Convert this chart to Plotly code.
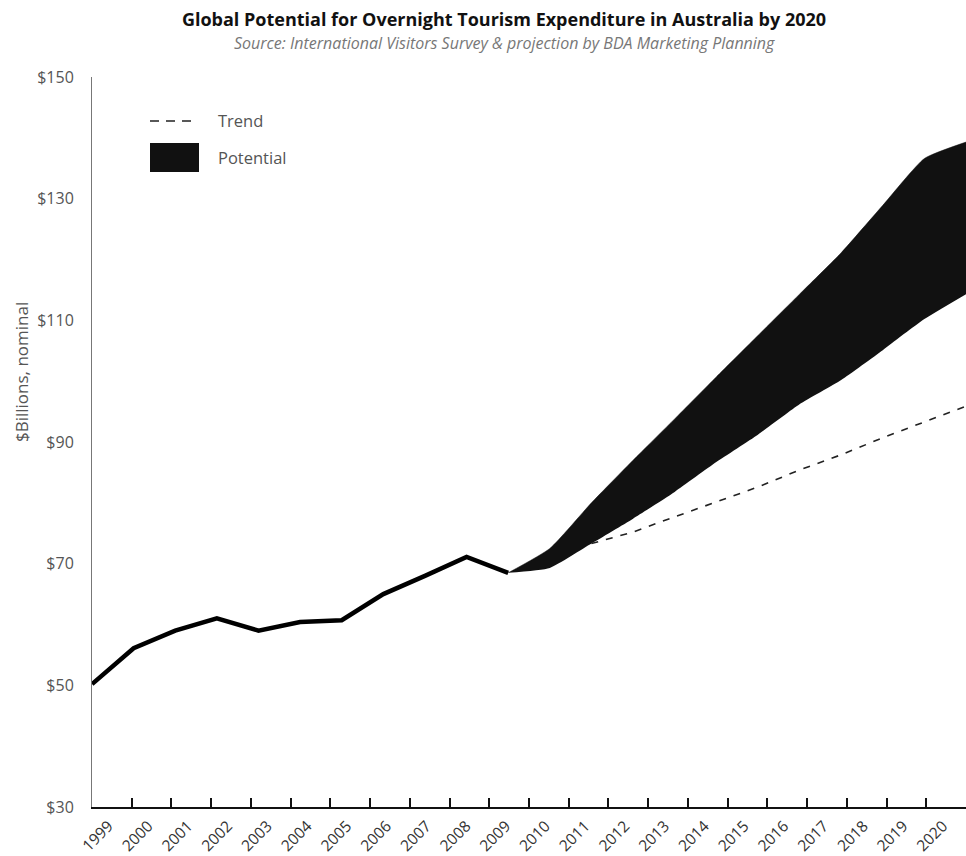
import plotly.graph_objects as go

# ---------------- data ----------------
hist_years = [1999, 2000, 2001, 2002, 2003, 2004, 2005, 2006, 2007, 2008, 2009]
hist_values = [50.2, 56.1, 59.0, 61.0, 59.0, 60.4, 60.7, 65.0, 68.0, 71.1, 68.5]

band_years = [2009, 2010, 2011, 2012, 2013, 2014, 2015, 2016, 2017, 2018, 2019, 2020]
band_lower = [68.5, 69.3, 73.3, 77.4, 81.8, 86.7, 91.2, 96.2, 100.2, 105.1, 110.2, 114.3]
band_upper = [68.5, 72.5, 80.0, 87.0, 93.8, 100.7, 107.5, 114.3, 121.1, 128.9, 136.6, 139.3]

trend_years = [2011, 2012, 2013, 2014, 2015, 2016, 2017, 2018, 2019, 2020]
trend_values = [73.3, 75.2, 77.7, 80.2, 82.6, 85.4, 87.9, 90.7, 93.3, 95.9]

tick_labels = [str(y) for y in range(1999, 2021)]
y_ticks = [30, 50, 70, 90, 110, 130, 150]
y_tick_text = ["$30", "$50", "$70", "$90", "$110", "$130", "$150"]

title = "Global Potential for Overnight Tourism Expenditure in Australia by 2020"
subtitle = "Source: International Visitors Survey & projection by BDA Marketing Planning"
y_title = "$Billions, nominal"
legend_names = ["Trend", "Potential"]

# ---------------- layout helpers ----------------
x0, x1 = hist_years[0], band_years[-1]
n_slots = len(tick_labels)  # category slots on the printed axis
step = (x1 - x0) / n_slots
boundary_vals = [x0 + i * step for i in range(1, n_slots + 1)]
LABEL_SHIFT = 0.40
label_vals = [x0 + i * step + LABEL_SHIFT for i in range(n_slots)]

FONT = "Open Sans"
GREY = "#555555"

fig = go.Figure()

# potential band
fig.add_trace(go.Scatter(x=band_years, y=band_lower, mode="lines",
                         line=dict(width=0, color="#111111", shape="spline", smoothing=0.5),
                         showlegend=False, hoverinfo="skip"))
fig.add_trace(go.Scatter(x=band_years, y=band_upper, mode="lines",
                         line=dict(width=0.5, color="#111111", shape="spline", smoothing=0.5),
                         fill="tonexty", fillcolor="#111111",
                         name=legend_names[1], showlegend=False))
# trend
fig.add_trace(go.Scatter(x=trend_years, y=trend_values, mode="lines",
                         line=dict(color="#222222", width=1.6, dash="7px,8px"),
                         name=legend_names[0], showlegend=False))
# historical line
fig.add_trace(go.Scatter(x=hist_years, y=hist_values, mode="lines",
                         line=dict(color="#000000", width=4.5),
                         showlegend=False))
# dummy trace for label axis
fig.add_trace(go.Scatter(x=[x0, x1], y=[None, None], xaxis="x2",
                         mode="lines", showlegend=False, hoverinfo="skip"))

fig.update_layout(
    width=966, height=856,
    margin=dict(l=92, r=0, t=77, b=49),
    paper_bgcolor="white", plot_bgcolor="white",
    font=dict(family=FONT, color=GREY, size=14),
    title=dict(text="<b>" + title + "</b>", x=504 / 966, xanchor="center",
               xref="container", y=1 - 20 / 856, yanchor="middle", yref="container",
               font=dict(family=FONT, size=18, color="#111111")),
    xaxis=dict(range=[x0, x1], tickvals=boundary_vals, showticklabels=False,
               ticks="inside", ticklen=9, tickwidth=1.5, tickcolor="#111111",
               showline=True, linecolor="#111111", linewidth=1.8,
               showgrid=False, zeroline=False, fixedrange=True),
    xaxis2=dict(range=[x0, x1], overlaying="x", anchor="y", side="bottom",
                tickvals=label_vals, ticktext=tick_labels, tickangle=-45,
                ticks="", showline=False, showgrid=False, zeroline=False,
                ticklabelstandoff=6,
                tickfont=dict(family=FONT, size=15.5, color="#333333")),
    yaxis=dict(range=[30, 150], tickvals=y_ticks, ticktext=y_tick_text,
               showline=True, linecolor="#777777", linewidth=1,
               showgrid=False, zeroline=False, ticks="", ticklabelstandoff=14,
               tickfont=dict(family=FONT, size=16, color=GREY)),
)

# subtitle
fig.add_annotation(text="<i>" + subtitle + "</i>", xref="paper", yref="paper",
                   x=(504 - 92) / 874, y=(807 - 43) / 730, showarrow=False,
                   xanchor="center", yanchor="middle",
                   font=dict(family=FONT, size=16, color="#777777"))
# y title
fig.add_annotation(text=y_title, xref="paper", yref="paper",
                   x=(22 - 92) / 874, y=(807 - 372) / 730, textangle=-90,
                   showarrow=False, xanchor="center", yanchor="middle",
                   font=dict(family=FONT, size=17, color=GREY))

# manual legend
fig.add_shape(type="line", xref="paper", yref="paper",
              x0=(150 - 92) / 874, x1=(196 - 92) / 874,
              y0=(807 - 121) / 730, y1=(807 - 121) / 730,
              line=dict(color="#222222", width=1.6, dash="9px,7px"))
fig.add_shape(type="rect", xref="paper", yref="paper",
              x0=(150 - 92) / 874, x1=(199 - 92) / 874,
              y0=(807 - 172) / 730, y1=(807 - 143) / 730,
              line=dict(width=0), fillcolor="#111111")
for name, py in zip(legend_names, [121, 157]):
    fig.add_annotation(text=name, xref="paper", yref="paper",
                       x=(216 - 92) / 874, y=(807 - py) / 730, showarrow=False,
                       xanchor="left", yanchor="middle",
                       font=dict(family=FONT, size=16.5, color=GREY))

fig.write_html("out.html")
